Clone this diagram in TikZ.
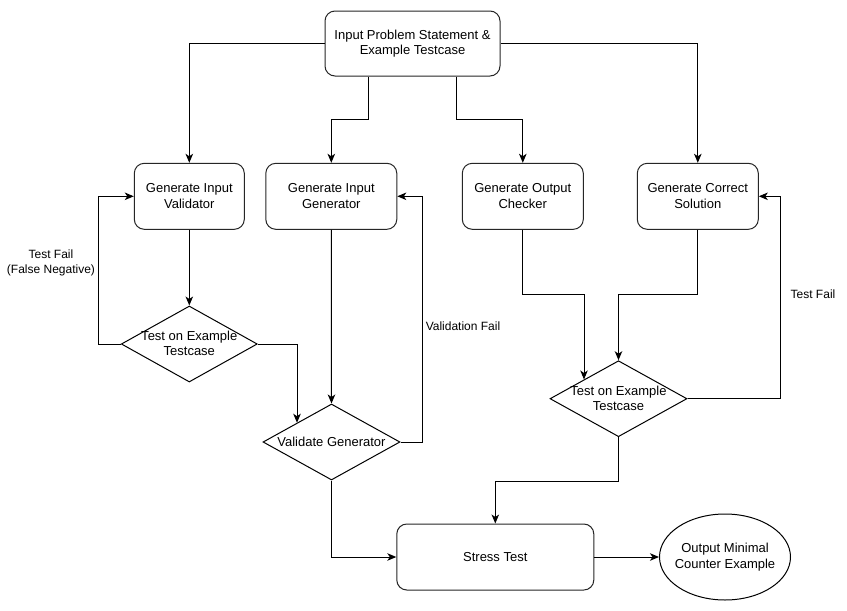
\documentclass[tikz,border=0pt]{standalone}
\usepackage{fontspec}
\setmainfont{Liberation Sans}
\usetikzlibrary{shapes.geometric,arrows.meta}
\begin{document}
\begin{tikzpicture}[x=1pt,y=-1pt,
  font=\fontsize{13}{15.6}\selectfont,
  box/.style={draw=black!85, rounded corners=10pt, line width=1pt, align=center, inner sep=0pt},
  dec/.style={draw=black, diamond, line width=1pt, inner sep=0pt},
  dectext/.style={align=center, inner sep=0pt},
  oval/.style={draw=black, ellipse, line width=1pt, inner sep=0pt},
  lbl/.style={align=center, font=\fontsize{12}{14.4}\selectfont, inner sep=0pt},
  arr/.style={draw=black, line width=1pt, -{Stealth[length=9pt,width=7.5pt,inset=2.5pt]}}]
\useasboundingbox (0,0) rectangle (847,611);
\fill[white] (0,0) rectangle (847,611);

\node[box, minimum width=175pt, minimum height=65pt] (top) at (412.5,43.5) {Input Problem Statement \&\\Example Testcase};
\node[box, minimum width=110pt, minimum height=66pt] (val) at (189.3,196.3) {Generate Input\\Validator};
\node[box, minimum width=131pt, minimum height=66pt] (gen) at (331.3,196.3) {Generate Input\\Generator};
\node[box, minimum width=121pt, minimum height=66pt] (chk) at (522.8,196.3) {Generate Output\\Checker};
\node[box, minimum width=121pt, minimum height=66pt] (sol) at (697.8,196.3) {Generate Correct\\Solution};

\node[dec, minimum width=136pt, minimum height=76pt] (d1) at (189.3,344) {};
\node[dectext] (d1t) at (189.3,343.5) {Test on Example\\Testcase};
\node[dec, minimum width=137pt, minimum height=76pt] (d2) at (331.5,442) {};
\node[dectext] (d2t) at (331.5,442) {Validate Generator};
\node[dec, minimum width=137pt, minimum height=76pt] (d3) at (618.5,398.7) {};
\node[dectext] (d3t) at (618.5,398.2) {Test on Example\\Testcase};

\node[box, minimum width=197pt, minimum height=66pt] (st) at (495.3,557) {Stress Test};
\node[oval, minimum width=131pt, minimum height=86pt] (out) at (725,557) {};
\node[dectext] (outt) at (725,557) {Output Minimal\\Counter Example};

\node[lbl] (l1) at (51,263) {Test Fail\\(False Negative)};
\node[lbl] (l2) at (463,326.5) {Validation Fail};
\node[lbl] (l3) at (813,294.5) {Test Fail};

\draw[arr] (top.west) -| (val.north);
\draw[arr] ([xshift=-43.8pt]top.south) -- ++(0,43.3) -| (gen.north);
\draw[arr] ([xshift=43.8pt]top.south) -- ++(0,43.3) -| (chk.north);
\draw[arr] (top.east) -| (sol.north);

\draw[arr] (val.south) -- (d1.north);
\draw[arr] (d1.west) -- ++(-22.5,0) |- (val.west);
\draw[arr] (d1.east) -| (d2.north west);

\draw[arr] (gen.south) -- (d2.north);
\draw[arr] (d2.east) -- ++(21.7,0) |- (gen.east);

\draw[arr] (chk.south) -- ++(0,65) -| (d3.north west);
\draw[arr] (sol.south) -- ++(0,65) -| (d3.north);
\draw[arr] (d3.east) -- ++(93,0) |- (sol.east);

\draw[arr] (d3.south) -- ++(0,44) -| (st.north);
\draw[arr] (d2.south) |- (st.west);
\draw[arr] (st.east) -- (out.west);
\end{tikzpicture}
\end{document}
